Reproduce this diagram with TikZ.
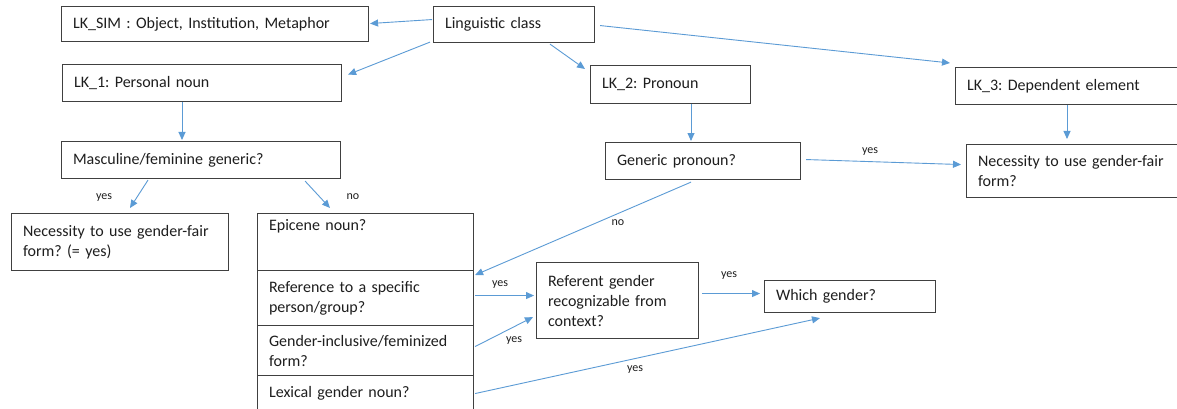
\documentclass[tikz,border=0pt]{standalone}
\usepackage{fontspec}
\setmainfont{Carlito}
\usetikzlibrary{arrows.meta,calc}
\definecolor{boxc}{HTML}{404040}
\definecolor{arrc}{HTML}{5B9BD5}
\definecolor{txtc}{HTML}{1E1E1E}
\frenchspacing
\begin{document}
\begin{tikzpicture}[x=1pt,y=-1pt,
  box/.style={draw=boxc, line width=1.1pt, anchor=north west, align=left,
    inner xsep=11.5pt, inner ysep=3pt, text=txtc,
    font=\frenchspacing\fontsize{16pt}{20pt}\selectfont},
  arr/.style={draw=arrc, line width=0.9pt, -{Triangle[length=8pt,width=7pt]}},
  lab/.style={text=txtc, font=\fontsize{12pt}{14pt}\selectfont, inner sep=0pt}]
\useasboundingbox (0,0) rectangle (1177,409);
\clip (0,0) rectangle (1177,409);
\fill[white] (0,0) rectangle (1177,409);

% boxes
\node[box, text width=284pt, minimum height=35pt] (sim) at (61,6) {LK\_SIM : Object, Institution, Metaphor};
\node[box, text width=138pt, minimum height=36pt] (ling) at (433,6) {Linguistic class};
\node[box, text width=256pt, minimum height=37pt] (lk1) at (62,64) {LK\_1: Personal noun};
\node[box, text width=137pt, minimum height=38pt] (lk2) at (590,65) {LK\_2: Pronoun};
\node[box, text width=202pt, minimum height=37pt] (lk3) at (955,67) {LK\_3: Dependent element};
\node[box, text width=256pt, minimum height=37pt] (masc) at (61,141) {Masculine/feminine generic?};
\node[box, text width=172pt, minimum height=37pt] (gen) at (605,142) {Generic pronoun?};
\node[box, text width=191pt, minimum height=53pt] (nec2) at (966,144) {Necessity to use gender-fair\\form?};
\node[box, text width=194pt, minimum height=57pt] (nec1) at (11,213) {Necessity to use gender-fair\\form? (= yes)};
\node[box, text width=193pt, text height=14pt, text depth=37pt, minimum height=57pt] (epi) at (257,213) {Epicene noun?};
\node[box, text width=193pt, minimum height=55pt] (ref) at (257,270) {Reference to a specific\\person/group?};
\node[box, text width=193pt, minimum height=50pt] (gin) at (257,325) {Gender-inclusive/feminized\\form?};
\node[box, text width=193pt, minimum height=36pt] (lex) at (257,375) {Lexical gender noun?};
\node[box, text width=139pt, minimum height=76pt] (refg) at (536,262) {Referent gender\\recognizable from\\context?};
\node[box, text width=148pt, minimum height=32pt] (which) at (764,280) {Which gender?};

% connectors
\draw[arr] ($(ling.west)+(-1,-5)$) -- ($(sim.east)+(1,-0.5)$);
\draw[arr] ($(ling.south west)+(-3,-1)$) -- ($(lk1.east)+(6,-8.5)$);
\draw[arr] ($(ling.south west)+(117,1)$) -- ($(lk2.north west)+(-5,4)$);
\draw[arr] ($(ling.east)+(5,1)$) -- ($(lk3.north west)+(-5,-4)$);
\draw[arr] ($(lk1.south west)+(120,0)$) -- ($(masc.north west)+(121,-1)$);
\draw[arr] ($(masc.south west)+(87,1)$) -- ($(nec1.north west)+(119,-5)$);
\draw[arr] ($(masc.south east)+(-36,2)$) -- ($(epi.north west)+(73,-5)$);
\draw[arr] ($(lk2.south west)+(101,0)$) -- ($(gen.north west)+(86,-1)$);
\draw[arr] ($(lk3.south west)+(112,0)$) -- ($(nec2.north west)+(101,-5)$);
\draw[arr] ($(gen.east)+(5,-1.5)$) -- ($(nec2.west)+(-5,-6.5)$);
\draw[arr] ($(gen.south)+(-12,2)$) -- ($(ref.north east)+(1,5)$);
\draw[arr] ($(ref.east)+(1,-2.5)$) -- ($(refg.west)+(-2,-5)$);
\draw[arr] ($(gin.east)+(1,-4)$) -- ($(refg.south west)+(-3,-22)$);
\draw[arr] ($(refg.east)+(3,-7)$) -- ($(which.west)+(-4,-3)$);
\draw[arr] ($(lex.east)+(1,0)$) -- ($(which.south west)+(56,5)$);

% labels
\node[lab] (l1) at (104,198) {yes};
\node[lab] (l2) at (353,197) {no};
\node[lab] (l3) at (870,152) {yes};
\node[lab] (l4) at (618,223) {no};
\node[lab] (l5) at (500,285) {yes};
\node[lab] (l6) at (514,341) {yes};
\node[lab] (l7) at (729,276) {yes};
\node[lab] (l8) at (635,370) {yes};
\end{tikzpicture}
\end{document}
